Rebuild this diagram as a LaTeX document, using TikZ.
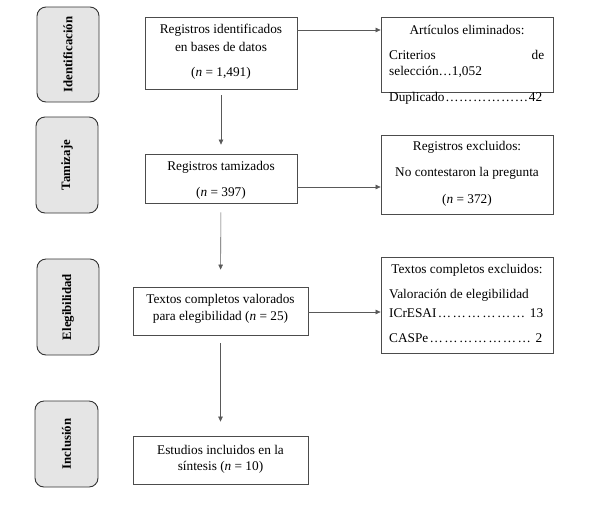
\documentclass[tikz,border=0pt]{standalone}
\usepackage{fontspec}
\setmainfont{Liberation Serif}
\usetikzlibrary{arrows.meta}
\begin{document}
\begin{tikzpicture}[x=1pt,y=-1pt,
  phase/.style={draw=black!80,fill=black!10,rounded corners=9pt,line width=0.9pt,inner sep=0pt},
  phasetext/.style={rotate=90,font=\fontsize{12.8}{14}\selectfont\bfseries},
  mainbox/.style={draw=black!70,line width=0.8pt,inner sep=0pt},
  txt/.style={font=\fontsize{13.3}{15}\selectfont,inner sep=0pt},
  flow/.style={draw=black!65,line width=0.6pt,-{Triangle[length=5pt,width=4.5pt]}}
]
\useasboundingbox (0,0) rectangle (589,507);
\fill[white] (0,0) rectangle (589,507);
% phase boxes
\node[phase,minimum width=62pt,minimum height=95pt] (p1) at (68,54.5) {};
\node[phasetext] (p1t) at (p1.center) {Identificación};
\node[phase,minimum width=62pt,minimum height=96pt] (p2) at (67,165) {};
\node[phasetext] (p2t) at (p2.center) {Tamizaje};
\node[phase,minimum width=62pt,minimum height=96pt] (p3) at (68,307) {};
\node[phasetext] (p3t) at (p3.center) {Elegibilidad};
\node[phase,minimum width=63pt,minimum height=86pt] (p4) at (66.5,444) {};
\node[phasetext] (p4t) at (p4.center) {Inclusión};
% main boxes
\node[mainbox,minimum width=152pt,minimum height=72pt] (b1) at (221,53) {};
\node[txt] (b1a) at (221,30) {Registros identificados};
\node[txt] (b1b) at (221,47) {en bases de datos};
\node[txt] (b1c) at (221,73) {(\textit{n} = 1,491)};
\node[mainbox,minimum width=152pt,minimum height=49pt] (b2) at (221,178.5) {};
\node[txt] (b2a) at (221,167) {Registros tamizados};
\node[txt] (b2b) at (221,193) {(\textit{n} = 397)};
\node[mainbox,minimum width=175pt,minimum height=48pt] (b3) at (220.5,311) {};
\node[txt] (b3a) at (220.5,300) {Textos completos valorados};
\node[txt] (b3b) at (220.5,317) {para elegibilidad (\textit{n} = 25)};
\node[mainbox,minimum width=175pt,minimum height=48pt] (b4) at (220.5,460) {};
\node[txt] (b4a) at (220.5,450) {Estudios incluidos en la};
\node[txt] (b4b) at (220.5,467) {síntesis (\textit{n} = 10)};
% right boxes
\node[mainbox,minimum width=172pt,minimum height=75pt] (r1) at (467,54.5) {};
\node[txt] (r1a) at (467,30) {Artículos eliminados:};
\node[txt,anchor=west] (r1b) at (389,55) {\hbox to 155pt{Criterios\hfill de}};
\node[txt,anchor=west] (r1c) at (389,72) {selección…1,052};
\node[txt,anchor=west] (r1d) at (389,98) {\hbox to 153pt{Duplicado\xleaders\hbox{…}\hfill42}};
\node[mainbox,minimum width=172pt,minimum height=79pt] (r2) at (467,174.5) {};
\node[txt] (r2a) at (467,147) {Registros excluidos:};
\node[txt] (r2b) at (467,173) {No contestaron la pregunta};
\node[txt] (r2c) at (467,200) {(\textit{n} = 372)};
\node[mainbox,minimum width=172pt,minimum height=96pt] (r3) at (467,305) {};
\node[txt] (r3a) at (467,270) {Textos completos excluidos:};
\node[txt,anchor=west] (r3b) at (389,295) {Valoración de elegibilidad};
\node[txt,anchor=west] (r3c) at (389,313) {\hbox to 154pt{ICrESAI\xleaders\hbox{…}\hfill\ 13}};
\node[txt,anchor=west] (r3d) at (389,338) {\hbox to 153pt{CASPe\xleaders\hbox{…}\hfill\ 2}};
% connectors
\draw[flow,shorten <=6pt,shorten >=9pt] (b1.south) -- (b2.north);
\draw[flow,shorten <=9pt,shorten >=17pt] (b2.south) -- (b3.north);
\draw[flow,shorten <=8pt,shorten >=14pt] (b3.south) -- (b4.north);
\draw[flow] (b1.east |- 0,30) -- (r1.west |- 0,30);
\draw[flow] (b2.east |- 0,187) -- (r2.west |- 0,187);
\draw[flow] (b3.east |- 0,312) -- (r3.west |- 0,312);
\end{tikzpicture}
\end{document}
